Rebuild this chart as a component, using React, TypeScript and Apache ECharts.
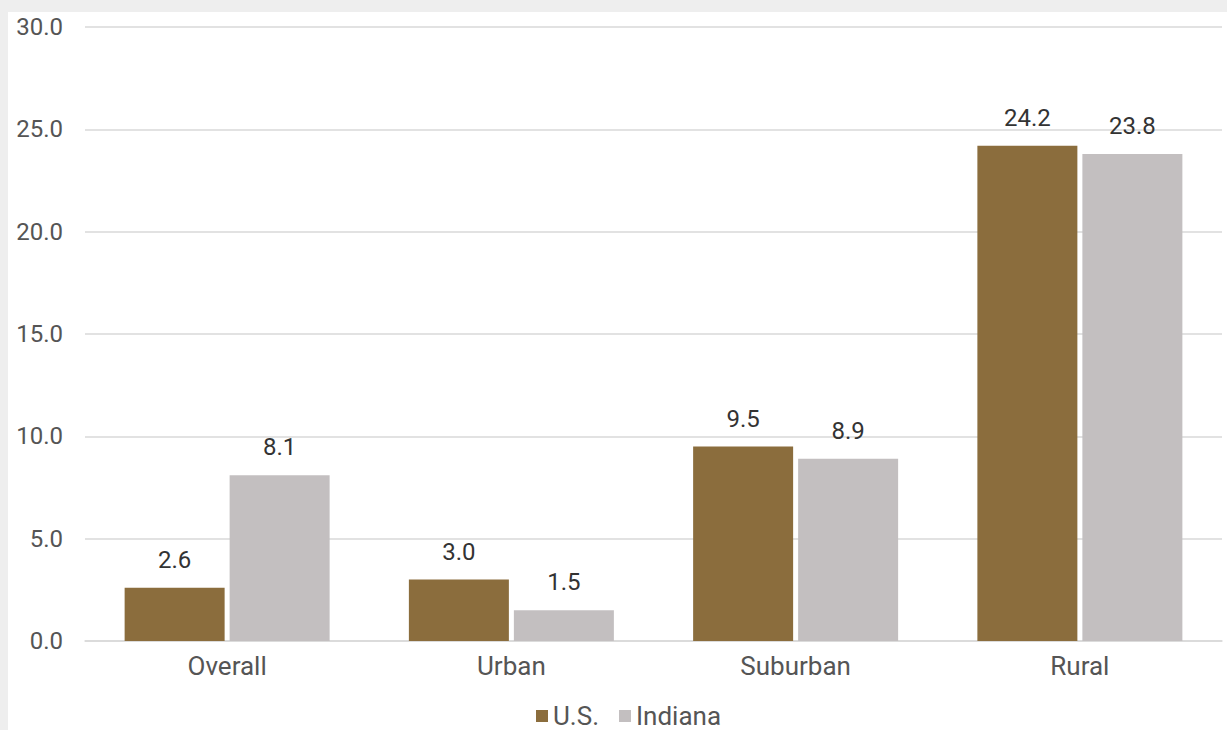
import React, { useEffect, useRef } from "react";
import * as echarts from "echarts";

const categories = ["Overall", "Urban", "Suburban", "Rural"];
const usValues = [2.6, 3.0, 9.5, 24.2];
const indianaValues = [8.1, 1.5, 8.9, 23.8];
const seriesNames = ["U.S.", "Indiana"];
const yTicks = { min: 0, max: 30, interval: 5 };

const FONT = "Roboto, 'Liberation Sans', sans-serif";

export default function App() {
  const ref = useRef<HTMLDivElement>(null);
  useEffect(() => {
    if (!ref.current) return;
    const chart = echarts.init(ref.current, null, { renderer: "svg" });
    const label = {
      show: true,
      position: "top",
      distance: 16,
      fontSize: 24,
      color: "#333333",
      fontFamily: FONT,
      formatter: (p: any) => Number(p.value).toFixed(1),
    };
    chart.setOption({
      animation: false,
      backgroundColor: "#ffffff",
      textStyle: { fontFamily: FONT },
      grid: { left: 77, right: 5, top: 15, bottom: 89, containLabel: false },
      legend: {
        bottom: 1,
        left: 528,
        padding: 0,
        itemWidth: 12,
        itemHeight: 12,
        itemGap: 20,
        icon: "rect",
        textStyle: { fontSize: 26, color: "#555555", fontFamily: FONT },
        data: seriesNames,
      },
      xAxis: {
        type: "category",
        data: categories,
        axisLine: { show: true, lineStyle: { color: "#d9d9d9", width: 1.5 } },
        axisTick: { show: false },
        axisLabel: { fontSize: 26, color: "#555555", margin: 12, fontFamily: FONT },
      },
      yAxis: {
        type: "value",
        min: yTicks.min,
        max: yTicks.max,
        interval: yTicks.interval,
        axisLine: { show: false },
        axisTick: { show: false },
        splitLine: { lineStyle: { color: "#d9d9d9", width: 1.5 } },
        axisLabel: {
          fontSize: 24,
          color: "#555555",
          margin: 22,
          fontFamily: FONT,
          formatter: (v: number) => v.toFixed(1),
        },
      },
      series: [
        {
          name: seriesNames[0],
          type: "bar",
          data: usValues,
          barWidth: 100,
          barGap: "5%",
          itemStyle: { color: "#8b6d3d" },
          label,
        },
        {
          name: seriesNames[1],
          type: "bar",
          data: indianaValues,
          barWidth: 100,
          barGap: "5%",
          itemStyle: { color: "#c3bfc0" },
          label,
        },
      ],
    });
    return () => chart.dispose();
  }, []);
  return (
    <div
      style={{
        position: "absolute",
        left: 0,
        top: 0,
        width: 1227,
        height: 730,
        background: "#eeeeee",
      }}
    >
      <div
        ref={ref}
        style={{ position: "absolute", left: 8, top: 12, width: 1219, height: 718, background: "#ffffff" }}
      />
    </div>
  );
}
